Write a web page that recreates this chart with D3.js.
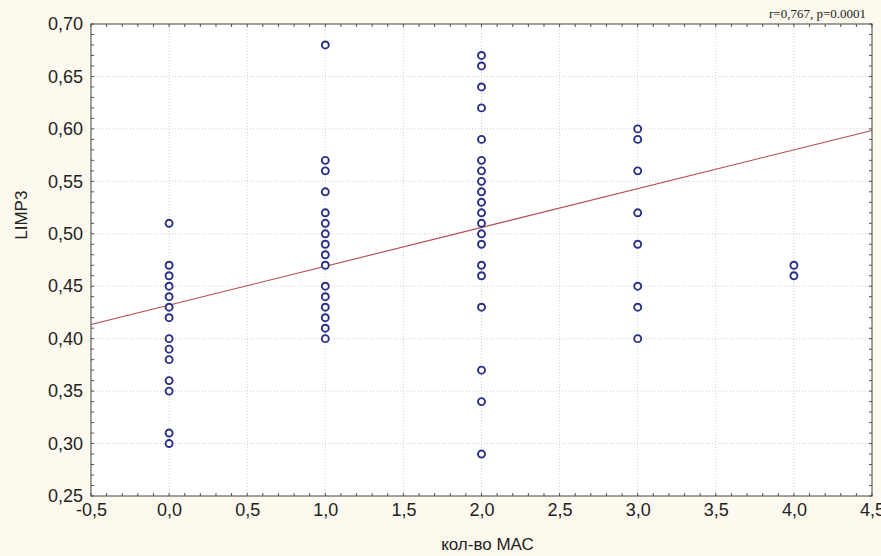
<!DOCTYPE html>
<html>
<head>
<meta charset="utf-8">
<script src="https://cdn.jsdelivr.net/npm/d3@7"></script>
<style>
  body { margin: 0; background: #fdf9ef; }
  svg { display: block; }
  .tick text { font-family: "Liberation Sans Narrow", "Liberation Sans", Arial, sans-serif; font-size: 18px; fill: #222; }
  .grid line { stroke: #cfcfcf; stroke-dasharray: 1,2; }
</style>
</head>
<body>
<script>
// data: x = кол-во МАС, y = LIMP3
var xGroups = [0, 1, 2, 3, 4];
var yAt0 = [0.51, 0.47, 0.46, 0.45, 0.44, 0.43, 0.42, 0.40, 0.39, 0.38, 0.36, 0.35, 0.31, 0.30];
var yAt1 = [0.68, 0.57, 0.56, 0.54, 0.52, 0.51, 0.50, 0.49, 0.48, 0.47, 0.45, 0.44, 0.43, 0.42, 0.41, 0.40];
var yAt2 = [0.67, 0.66, 0.64, 0.62, 0.59, 0.57, 0.56, 0.55, 0.54, 0.53, 0.52, 0.51, 0.50, 0.49, 0.47, 0.46, 0.43, 0.37, 0.34, 0.29];
var yAt3 = [0.60, 0.59, 0.56, 0.52, 0.49, 0.45, 0.43, 0.40];
var yAt4 = [0.47, 0.46];
// fitted line as drawn in the original
var fitIntercept = 0.432, fitSlope = 0.037;
var xTicks = [-0.5, 0, 0.5, 1, 1.5, 2, 2.5, 3, 3.5, 4, 4.5];
var yTicks = [0.25, 0.30, 0.35, 0.40, 0.45, 0.50, 0.55, 0.60, 0.65, 0.70];
var statLabel = "r=0,767, p=0.0001";

var width = 881, height = 556;
var margin = {top: 24, right: 9, bottom: 60, left: 91};
var w = width - margin.left - margin.right,
    h = height - margin.top - margin.bottom;

var svg = d3.select("body").append("svg")
    .attr("width", width)
    .attr("height", height);

var g = svg.append("g").attr("transform", "translate(" + margin.left + "," + margin.top + ")");

var x = d3.scaleLinear().domain([-0.5, 4.5]).range([0, w]);
var y = d3.scaleLinear().domain([0.25, 0.70]).range([h, 0]);

var comma = function(d){ return d3.format(".1f")(d).replace(".", ",").replace("\u2212", "-"); };
var comma2 = function(d){ return d3.format(".2f")(d).replace(".", ","); };

//plot background
g.append("rect").attr("width", w).attr("height", h).attr("fill", "#fff");

//grid
g.append("g").attr("class", "grid")
    .selectAll("line").data(xTicks.slice(1, -1)).enter().append("line")
    .attr("x1", function(d){ return x(d); }).attr("x2", function(d){ return x(d); })
    .attr("y1", 0).attr("y2", h);
g.append("g").attr("class", "grid")
    .selectAll("line").data(yTicks.slice(1, -1)).enter().append("line")
    .attr("y1", function(d){ return y(d); }).attr("y2", function(d){ return y(d); })
    .attr("x1", 0).attr("x2", w);

//minor ticks, pointing inward on all four sides
var xMinor = d3.range(-0.5, 4.501, 0.1);
var yMinor = d3.range(0.25, 0.7001, 0.01);
var tk = g.append("g").attr("stroke", "#555").attr("stroke-width", 1);
xMinor.forEach(function(d){
    tk.append("line").attr("x1", x(d)).attr("x2", x(d)).attr("y1", h).attr("y2", h - 3);
    tk.append("line").attr("x1", x(d)).attr("x2", x(d)).attr("y1", 0).attr("y2", 3);
});
yMinor.forEach(function(d){
    tk.append("line").attr("y1", y(d)).attr("y2", y(d)).attr("x1", 0).attr("x2", 3);
    tk.append("line").attr("y1", y(d)).attr("y2", y(d)).attr("x1", w).attr("x2", w - 3);
});

//axes labels
var xAxis = g.append("g").attr("transform", "translate(0," + h + ")")
    .call(d3.axisBottom(x).tickValues(xTicks).tickFormat(comma).tickSize(0).tickPadding(7));
xAxis.select(".domain").remove();
var yAxis = g.append("g")
    .call(d3.axisLeft(y).tickValues(yTicks).tickFormat(comma2).tickSize(0).tickPadding(8));
yAxis.select(".domain").remove();

//fit line
g.append("line")
    .attr("x1", x(-0.5)).attr("y1", y(fitIntercept + fitSlope * -0.5))
    .attr("x2", x(4.5)).attr("y2", y(fitIntercept + fitSlope * 4.5))
    .attr("stroke", "#b5474c").attr("stroke-width", 1.1);

//points
var series = [yAt0, yAt1, yAt2, yAt3, yAt4];
var points = [];
series.forEach(function(vals, i){
    vals.forEach(function(v){ points.push({x: xGroups[i], y: v}); });
});
g.selectAll(".pt").data(points).enter().append("circle")
    .attr("class", "pt")
    .attr("cx", function(d){ return x(d.x); })
    .attr("cy", function(d){ return y(d.y); })
    .attr("r", 3.5)
    .attr("fill", "#fff")
    .attr("stroke", "#2a2f86")
    .attr("stroke-width", 1.9);

//frame
g.append("rect").attr("width", w).attr("height", h)
    .attr("fill", "none").attr("stroke", "#444").attr("stroke-width", 1);

//titles
svg.append("text")
    .attr("x", margin.left + w / 2 + 6).attr("y", 550)
    .attr("text-anchor", "middle")
    .style("font-family", "'Liberation Sans Narrow', 'Liberation Sans', Arial, sans-serif")
    .style("font-size", "17px").attr("fill", "#222")
    .text("кол-во МАС");
svg.append("text")
    .attr("transform", "translate(27," + (margin.top + h * 0.405) + ") rotate(-90)")
    .attr("text-anchor", "middle")
    .style("font-family", "'Liberation Sans Narrow', 'Liberation Sans', Arial, sans-serif")
    .style("font-size", "17px").attr("fill", "#222")
    .text("LIMP3");
svg.append("text")
    .attr("x", 866).attr("y", 18)
    .attr("text-anchor", "end")
    .style("font-family", "'Liberation Serif', 'Times New Roman', serif")
    .style("font-size", "13px").attr("fill", "#222")
    .text(statLabel);
</script>
</body>
</html>
